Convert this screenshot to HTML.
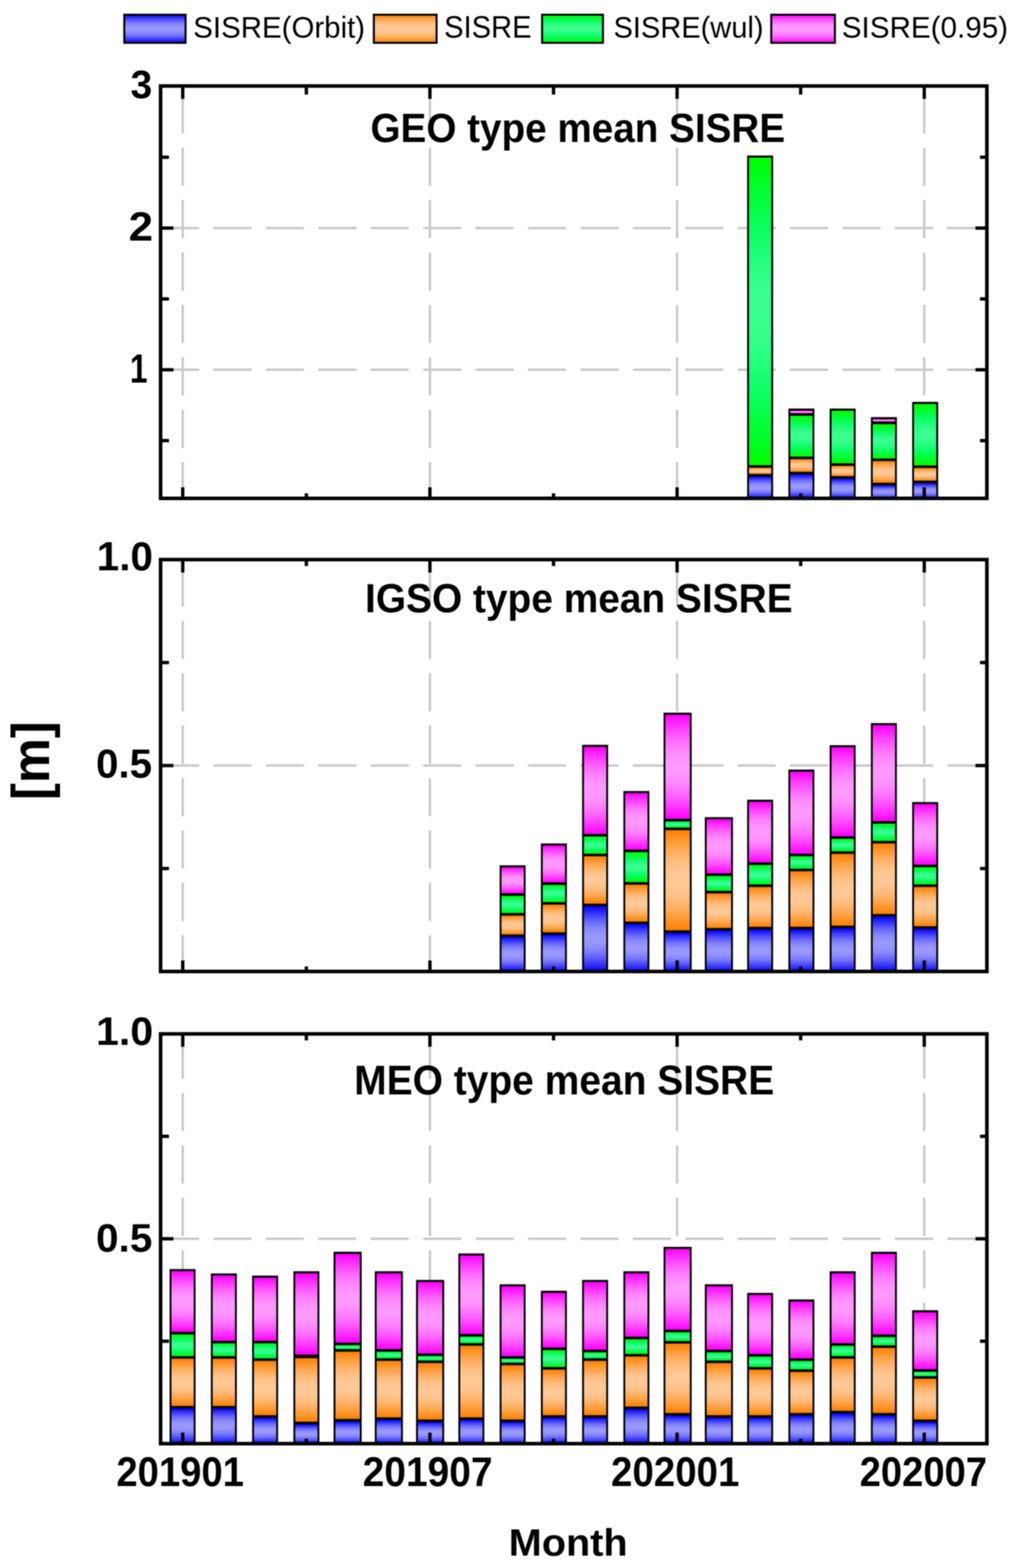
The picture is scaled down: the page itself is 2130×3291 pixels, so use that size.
<!DOCTYPE html><html><head><meta charset="utf-8"><title>SISRE</title><style>html,body{margin:0;padding:0;background:#fff}svg{display:block;filter:blur(0.9px)}text{font-family:"Liberation Sans",Arial,sans-serif}</style></head><body>
<svg width="2130" height="3291" viewBox="0 0 2130 3291">
<defs>
<linearGradient id="b" x1="0" y1="0" x2="0" y2="1"><stop offset="0.0" stop-color="#0000ff"/><stop offset="0.0625" stop-color="#1e1eff"/><stop offset="0.125" stop-color="#3b3bff"/><stop offset="0.1875" stop-color="#5555ff"/><stop offset="0.25" stop-color="#6c6cff"/><stop offset="0.3125" stop-color="#7f7fff"/><stop offset="0.375" stop-color="#8d8dff"/><stop offset="0.4375" stop-color="#9696ff"/><stop offset="0.5" stop-color="#9999ff"/><stop offset="0.5625" stop-color="#9696ff"/><stop offset="0.625" stop-color="#8d8dff"/><stop offset="0.6875" stop-color="#7f7fff"/><stop offset="0.75" stop-color="#6c6cff"/><stop offset="0.8125" stop-color="#5555ff"/><stop offset="0.875" stop-color="#3b3bff"/><stop offset="0.9375" stop-color="#1e1eff"/><stop offset="1.0" stop-color="#0000ff"/></linearGradient>
<linearGradient id="o" x1="0" y1="0" x2="0" y2="1"><stop offset="0.0" stop-color="#ff8000"/><stop offset="0.0625" stop-color="#ff8e1d"/><stop offset="0.125" stop-color="#ff9c39"/><stop offset="0.1875" stop-color="#ffa853"/><stop offset="0.25" stop-color="#ffb36a"/><stop offset="0.3125" stop-color="#ffbc7d"/><stop offset="0.375" stop-color="#ffc38b"/><stop offset="0.4375" stop-color="#ffc793"/><stop offset="0.5" stop-color="#ffc896"/><stop offset="0.5625" stop-color="#ffc793"/><stop offset="0.625" stop-color="#ffc38b"/><stop offset="0.6875" stop-color="#ffbc7d"/><stop offset="0.75" stop-color="#ffb36a"/><stop offset="0.8125" stop-color="#ffa853"/><stop offset="0.875" stop-color="#ff9c39"/><stop offset="0.9375" stop-color="#ff8e1d"/><stop offset="1.0" stop-color="#ff8000"/></linearGradient>
<linearGradient id="g" x1="0" y1="0" x2="0" y2="1"><stop offset="0.0" stop-color="#00ff00"/><stop offset="0.0625" stop-color="#00ff1c"/><stop offset="0.125" stop-color="#01ff37"/><stop offset="0.1875" stop-color="#06ff50"/><stop offset="0.25" stop-color="#0fff66"/><stop offset="0.3125" stop-color="#1dff78"/><stop offset="0.375" stop-color="#2cff85"/><stop offset="0.4375" stop-color="#38ff8d"/><stop offset="0.5" stop-color="#3cff90"/><stop offset="0.5625" stop-color="#38ff8d"/><stop offset="0.625" stop-color="#2cff85"/><stop offset="0.6875" stop-color="#1dff78"/><stop offset="0.75" stop-color="#0fff66"/><stop offset="0.8125" stop-color="#06ff50"/><stop offset="0.875" stop-color="#01ff37"/><stop offset="0.9375" stop-color="#00ff1c"/><stop offset="1.0" stop-color="#00ff00"/></linearGradient>
<linearGradient id="p" x1="0" y1="0" x2="0" y2="1"><stop offset="0.0" stop-color="#ff00ff"/><stop offset="0.0625" stop-color="#ff1eff"/><stop offset="0.125" stop-color="#ff3bff"/><stop offset="0.1875" stop-color="#ff55ff"/><stop offset="0.25" stop-color="#ff6cff"/><stop offset="0.3125" stop-color="#ff7fff"/><stop offset="0.375" stop-color="#ff8dff"/><stop offset="0.4375" stop-color="#ff96ff"/><stop offset="0.5" stop-color="#ff99ff"/><stop offset="0.5625" stop-color="#ff96ff"/><stop offset="0.625" stop-color="#ff8dff"/><stop offset="0.6875" stop-color="#ff7fff"/><stop offset="0.75" stop-color="#ff6cff"/><stop offset="0.8125" stop-color="#ff55ff"/><stop offset="0.875" stop-color="#ff3bff"/><stop offset="0.9375" stop-color="#ff1eff"/><stop offset="1.0" stop-color="#ff00ff"/></linearGradient>
</defs>
<rect width="2130" height="3291" fill="#fff"/>
<rect x="260.8" y="30.9" width="128.6" height="59" fill="url(#b)" stroke="#000" stroke-width="4.2"/>
<rect x="784.5" y="30.9" width="131.7" height="59" fill="url(#o)" stroke="#000" stroke-width="4.2"/>
<rect x="1137.6" y="30.9" width="127.7" height="59" fill="url(#g)" stroke="#000" stroke-width="4.2"/>
<rect x="1618.5" y="30.9" width="133.6" height="59" fill="url(#p)" stroke="#000" stroke-width="4.2"/>
<line x1="383.5" y1="1050" x2="383.5" y2="180.5" stroke="#c8c8c8" stroke-width="5" stroke-dasharray="80 30"/>
<line x1="902.2" y1="1050" x2="902.2" y2="180.5" stroke="#c8c8c8" stroke-width="5" stroke-dasharray="80 30"/>
<line x1="1420.9" y1="1050" x2="1420.9" y2="180.5" stroke="#c8c8c8" stroke-width="5" stroke-dasharray="80 30"/>
<line x1="1939.6" y1="1050" x2="1939.6" y2="180.5" stroke="#c8c8c8" stroke-width="5" stroke-dasharray="80 30"/>
<line x1="338" y1="478.7" x2="2071" y2="478.7" stroke="#c8c8c8" stroke-width="5" stroke-dasharray="80 30"/>
<line x1="338" y1="776.1" x2="2071" y2="776.1" stroke="#c8c8c8" stroke-width="5" stroke-dasharray="80 30"/>
<rect x="1567.9" y="326.4" width="54.5" height="719.6" fill="#000"/><rect x="1571.8" y="330.9" width="46.7" height="645.4" fill="url(#g)"/><rect x="1571.8" y="981.7" width="46.7" height="13.1" fill="url(#o)"/><rect x="1571.8" y="1000.2" width="46.7" height="45.8" fill="url(#b)"/>
<rect x="1654.5" y="857.5" width="54.5" height="188.5" fill="#000"/><rect x="1658.4" y="862" width="46.7" height="5.3" fill="url(#p)"/><rect x="1658.4" y="872.7" width="46.7" height="85.6" fill="url(#g)"/><rect x="1658.4" y="963.7" width="46.7" height="26.6" fill="url(#o)"/><rect x="1658.4" y="995.7" width="46.7" height="50.3" fill="url(#b)"/>
<rect x="1741.1" y="857.5" width="54.5" height="188.5" fill="#000"/><rect x="1745" y="862" width="46.7" height="110.3" fill="url(#g)"/><rect x="1745" y="977.7" width="46.7" height="21.6" fill="url(#o)"/><rect x="1745" y="1004.7" width="46.7" height="41.3" fill="url(#b)"/>
<rect x="1827.6" y="875.5" width="54.5" height="170.5" fill="#000"/><rect x="1831.5" y="880" width="46.7" height="4.9" fill="url(#p)"/><rect x="1831.5" y="890.3" width="46.7" height="72" fill="url(#g)"/><rect x="1831.5" y="967.7" width="46.7" height="45.6" fill="url(#o)"/><rect x="1831.5" y="1018.7" width="46.7" height="27.3" fill="url(#b)"/>
<rect x="1914.2" y="843.5" width="54.5" height="202.5" fill="#000"/><rect x="1918.1" y="848" width="46.7" height="128.8" fill="url(#g)"/><rect x="1918.1" y="982.2" width="46.7" height="26.6" fill="url(#o)"/><rect x="1918.1" y="1014.2" width="46.7" height="31.8" fill="url(#b)"/>
<line x1="383.5" y1="180.5" x2="383.5" y2="207.5" stroke="#000" stroke-width="7"/>
<line x1="383.5" y1="1046" x2="383.5" y2="1022.8" stroke="#000" stroke-width="7"/>
<line x1="642.9" y1="180.5" x2="642.9" y2="198.5" stroke="#000" stroke-width="7"/>
<line x1="642.9" y1="1046" x2="642.9" y2="1035.5" stroke="#000" stroke-width="7"/>
<line x1="902.2" y1="180.5" x2="902.2" y2="207.5" stroke="#000" stroke-width="7"/>
<line x1="902.2" y1="1046" x2="902.2" y2="1022.8" stroke="#000" stroke-width="7"/>
<line x1="1161.6" y1="180.5" x2="1161.6" y2="198.5" stroke="#000" stroke-width="7"/>
<line x1="1161.6" y1="1046" x2="1161.6" y2="1035.5" stroke="#000" stroke-width="7"/>
<line x1="1420.9" y1="180.5" x2="1420.9" y2="207.5" stroke="#000" stroke-width="7"/>
<line x1="1420.9" y1="1046" x2="1420.9" y2="1022.8" stroke="#000" stroke-width="7"/>
<line x1="1680.2" y1="180.5" x2="1680.2" y2="198.5" stroke="#000" stroke-width="7"/>
<line x1="1680.2" y1="1046" x2="1680.2" y2="1035.5" stroke="#000" stroke-width="7"/>
<line x1="1939.6" y1="180.5" x2="1939.6" y2="207.5" stroke="#000" stroke-width="7"/>
<line x1="1939.6" y1="1046" x2="1939.6" y2="1022.8" stroke="#000" stroke-width="7"/>
<line x1="337" y1="330" x2="354.6" y2="330" stroke="#000" stroke-width="7"/>
<line x1="2071" y1="330" x2="2056.5" y2="330" stroke="#000" stroke-width="7"/>
<line x1="337" y1="478.7" x2="364" y2="478.7" stroke="#000" stroke-width="7"/>
<line x1="2071" y1="478.7" x2="2047" y2="478.7" stroke="#000" stroke-width="7"/>
<line x1="337" y1="627.4" x2="354.6" y2="627.4" stroke="#000" stroke-width="7"/>
<line x1="2071" y1="627.4" x2="2056.5" y2="627.4" stroke="#000" stroke-width="7"/>
<line x1="337" y1="776.1" x2="364" y2="776.1" stroke="#000" stroke-width="7"/>
<line x1="2071" y1="776.1" x2="2047" y2="776.1" stroke="#000" stroke-width="7"/>
<line x1="337" y1="924.8" x2="354.6" y2="924.8" stroke="#000" stroke-width="7"/>
<line x1="2071" y1="924.8" x2="2056.5" y2="924.8" stroke="#000" stroke-width="7"/>
<rect x="337" y="180.5" width="1734" height="865.5" fill="none" stroke="#000" stroke-width="7.5"/>
<line x1="383.5" y1="2043" x2="383.5" y2="1174.5" stroke="#c8c8c8" stroke-width="5" stroke-dasharray="80 30"/>
<line x1="902.2" y1="2043" x2="902.2" y2="1174.5" stroke="#c8c8c8" stroke-width="5" stroke-dasharray="80 30"/>
<line x1="1420.9" y1="2043" x2="1420.9" y2="1174.5" stroke="#c8c8c8" stroke-width="5" stroke-dasharray="80 30"/>
<line x1="1939.6" y1="2043" x2="1939.6" y2="1174.5" stroke="#c8c8c8" stroke-width="5" stroke-dasharray="80 30"/>
<line x1="338" y1="1606.8" x2="2071" y2="1606.8" stroke="#c8c8c8" stroke-width="5" stroke-dasharray="80 30"/>
<rect x="1048.5" y="1816.1" width="54.5" height="222.9" fill="#000"/><rect x="1052.4" y="1820.6" width="46.7" height="54.3" fill="url(#p)"/><rect x="1052.4" y="1880.3" width="46.7" height="36" fill="url(#g)"/><rect x="1052.4" y="1921.7" width="46.7" height="39.6" fill="url(#o)"/><rect x="1052.4" y="1966.7" width="46.7" height="72.3" fill="url(#b)"/>
<rect x="1135.1" y="1770.2" width="54.5" height="268.8" fill="#000"/><rect x="1139" y="1774.7" width="46.7" height="77.2" fill="url(#p)"/><rect x="1139" y="1857.3" width="46.7" height="36" fill="url(#g)"/><rect x="1139" y="1898.7" width="46.7" height="58.1" fill="url(#o)"/><rect x="1139" y="1962.2" width="46.7" height="76.8" fill="url(#b)"/>
<rect x="1221.6" y="1563.3" width="54.5" height="475.7" fill="#000"/><rect x="1225.5" y="1567.8" width="46.7" height="182.5" fill="url(#p)"/><rect x="1225.5" y="1755.7" width="46.7" height="36.1" fill="url(#g)"/><rect x="1225.5" y="1797.2" width="46.7" height="99.5" fill="url(#o)"/><rect x="1225.5" y="1902.1" width="46.7" height="136.9" fill="url(#b)"/>
<rect x="1308.2" y="1660.3" width="54.5" height="378.7" fill="#000"/><rect x="1312.1" y="1664.8" width="46.7" height="118.4" fill="url(#p)"/><rect x="1312.1" y="1788.6" width="46.7" height="62.8" fill="url(#g)"/><rect x="1312.1" y="1856.8" width="46.7" height="77.5" fill="url(#o)"/><rect x="1312.1" y="1939.7" width="46.7" height="99.3" fill="url(#b)"/>
<rect x="1392.5" y="1495.8" width="59" height="543.2" fill="#000"/><rect x="1396.4" y="1500.3" width="51.2" height="218.3" fill="url(#p)"/><rect x="1396.4" y="1724" width="51.2" height="12.9" fill="url(#g)"/><rect x="1396.4" y="1742.3" width="51.2" height="210.3" fill="url(#o)"/><rect x="1396.4" y="1958" width="51.2" height="81" fill="url(#b)"/>
<rect x="1479.1" y="1715.1" width="59" height="323.9" fill="#000"/><rect x="1483" y="1719.6" width="51.2" height="113.5" fill="url(#p)"/><rect x="1483" y="1838.5" width="51.2" height="31.2" fill="url(#g)"/><rect x="1483" y="1875.1" width="51.2" height="72.6" fill="url(#o)"/><rect x="1483" y="1953.1" width="51.2" height="85.9" fill="url(#b)"/>
<rect x="1567.9" y="1678.5" width="54.5" height="360.5" fill="#000"/><rect x="1571.8" y="1683" width="46.7" height="127" fill="url(#p)"/><rect x="1571.8" y="1815.4" width="46.7" height="40.9" fill="url(#g)"/><rect x="1571.8" y="1861.7" width="46.7" height="83.6" fill="url(#o)"/><rect x="1571.8" y="1950.7" width="46.7" height="88.3" fill="url(#b)"/>
<rect x="1654.5" y="1615.2" width="54.5" height="423.8" fill="#000"/><rect x="1658.4" y="1619.7" width="46.7" height="172" fill="url(#p)"/><rect x="1658.4" y="1797.1" width="46.7" height="26.2" fill="url(#g)"/><rect x="1658.4" y="1828.7" width="46.7" height="116.5" fill="url(#o)"/><rect x="1658.4" y="1950.6" width="46.7" height="88.4" fill="url(#b)"/>
<rect x="1741.1" y="1564" width="54.5" height="475" fill="#000"/><rect x="1745" y="1568.5" width="46.7" height="186.6" fill="url(#p)"/><rect x="1745" y="1760.5" width="46.7" height="26.3" fill="url(#g)"/><rect x="1745" y="1792.2" width="46.7" height="150.6" fill="url(#o)"/><rect x="1745" y="1948.2" width="46.7" height="90.8" fill="url(#b)"/>
<rect x="1827.6" y="1517.7" width="54.5" height="521.3" fill="#000"/><rect x="1831.5" y="1522.2" width="46.7" height="201.2" fill="url(#p)"/><rect x="1831.5" y="1728.8" width="46.7" height="36.1" fill="url(#g)"/><rect x="1831.5" y="1770.3" width="46.7" height="148.1" fill="url(#o)"/><rect x="1831.5" y="1923.8" width="46.7" height="115.2" fill="url(#b)"/>
<rect x="1914.2" y="1683.4" width="54.5" height="355.6" fill="#000"/><rect x="1918.1" y="1687.9" width="46.7" height="126.9" fill="url(#p)"/><rect x="1918.1" y="1820.2" width="46.7" height="36.1" fill="url(#g)"/><rect x="1918.1" y="1861.7" width="46.7" height="82.3" fill="url(#o)"/><rect x="1918.1" y="1949.4" width="46.7" height="89.6" fill="url(#b)"/>
<line x1="383.5" y1="1174.5" x2="383.5" y2="1201.5" stroke="#000" stroke-width="7"/>
<line x1="383.5" y1="2039" x2="383.5" y2="2015.8" stroke="#000" stroke-width="7"/>
<line x1="642.9" y1="1174.5" x2="642.9" y2="1188.1" stroke="#000" stroke-width="7"/>
<line x1="642.9" y1="2039" x2="642.9" y2="2028.5" stroke="#000" stroke-width="7"/>
<line x1="902.2" y1="1174.5" x2="902.2" y2="1201.5" stroke="#000" stroke-width="7"/>
<line x1="902.2" y1="2039" x2="902.2" y2="2015.8" stroke="#000" stroke-width="7"/>
<line x1="1161.6" y1="1174.5" x2="1161.6" y2="1188.1" stroke="#000" stroke-width="7"/>
<line x1="1161.6" y1="2039" x2="1161.6" y2="2028.5" stroke="#000" stroke-width="7"/>
<line x1="1420.9" y1="1174.5" x2="1420.9" y2="1201.5" stroke="#000" stroke-width="7"/>
<line x1="1420.9" y1="2039" x2="1420.9" y2="2015.8" stroke="#000" stroke-width="7"/>
<line x1="1680.2" y1="1174.5" x2="1680.2" y2="1188.1" stroke="#000" stroke-width="7"/>
<line x1="1680.2" y1="2039" x2="1680.2" y2="2028.5" stroke="#000" stroke-width="7"/>
<line x1="1939.6" y1="1174.5" x2="1939.6" y2="1201.5" stroke="#000" stroke-width="7"/>
<line x1="1939.6" y1="2039" x2="1939.6" y2="2015.8" stroke="#000" stroke-width="7"/>
<line x1="337" y1="1390.6" x2="354.6" y2="1390.6" stroke="#000" stroke-width="7"/>
<line x1="2071" y1="1390.6" x2="2056.5" y2="1390.6" stroke="#000" stroke-width="7"/>
<line x1="337" y1="1606.8" x2="364" y2="1606.8" stroke="#000" stroke-width="7"/>
<line x1="2071" y1="1606.8" x2="2047" y2="1606.8" stroke="#000" stroke-width="7"/>
<line x1="337" y1="1822.9" x2="354.6" y2="1822.9" stroke="#000" stroke-width="7"/>
<line x1="2071" y1="1822.9" x2="2056.5" y2="1822.9" stroke="#000" stroke-width="7"/>
<rect x="337" y="1174.5" width="1734" height="864.5" fill="none" stroke="#000" stroke-width="7.5"/>
<line x1="383.5" y1="3034" x2="383.5" y2="2170" stroke="#c8c8c8" stroke-width="5" stroke-dasharray="80 30"/>
<line x1="902.2" y1="3034" x2="902.2" y2="2170" stroke="#c8c8c8" stroke-width="5" stroke-dasharray="80 30"/>
<line x1="1420.9" y1="3034" x2="1420.9" y2="2170" stroke="#c8c8c8" stroke-width="5" stroke-dasharray="80 30"/>
<line x1="1939.6" y1="3034" x2="1939.6" y2="2170" stroke="#c8c8c8" stroke-width="5" stroke-dasharray="80 30"/>
<line x1="338" y1="2600" x2="2071" y2="2600" stroke="#c8c8c8" stroke-width="5" stroke-dasharray="80 30"/>
<rect x="355.9" y="2663.6" width="54.5" height="366.4" fill="#000"/><rect x="359.8" y="2668.1" width="46.7" height="127.2" fill="url(#p)"/><rect x="359.8" y="2800.7" width="46.7" height="45.6" fill="url(#g)"/><rect x="359.8" y="2851.7" width="46.7" height="99.2" fill="url(#o)"/><rect x="359.8" y="2956.3" width="46.7" height="73.7" fill="url(#b)"/>
<rect x="442.5" y="2672.7" width="54.5" height="357.3" fill="#000"/><rect x="446.4" y="2677.2" width="46.7" height="136.9" fill="url(#p)"/><rect x="446.4" y="2819.5" width="46.7" height="26.8" fill="url(#g)"/><rect x="446.4" y="2851.7" width="46.7" height="99.2" fill="url(#o)"/><rect x="446.4" y="2956.3" width="46.7" height="73.7" fill="url(#b)"/>
<rect x="529.1" y="2677.3" width="54.5" height="352.7" fill="#000"/><rect x="533" y="2681.8" width="46.7" height="132.3" fill="url(#p)"/><rect x="533" y="2819.5" width="46.7" height="31.4" fill="url(#g)"/><rect x="533" y="2856.3" width="46.7" height="114" fill="url(#o)"/><rect x="533" y="2975.7" width="46.7" height="54.3" fill="url(#b)"/>
<rect x="615.7" y="2668.2" width="54.5" height="361.8" fill="#000"/><rect x="619.6" y="2672.7" width="46.7" height="170.3" fill="url(#p)"/><rect x="619.6" y="2850.7" width="46.7" height="133.2" fill="url(#o)"/><rect x="619.6" y="2989.3" width="46.7" height="40.7" fill="url(#b)"/>
<rect x="700" y="2627.3" width="59" height="402.7" fill="#000"/><rect x="703.9" y="2631.8" width="51.2" height="186.2" fill="url(#p)"/><rect x="703.9" y="2823.4" width="51.2" height="8.2" fill="url(#g)"/><rect x="703.9" y="2837" width="51.2" height="141.2" fill="url(#o)"/><rect x="703.9" y="2983.6" width="51.2" height="46.4" fill="url(#b)"/>
<rect x="786.5" y="2668.2" width="59" height="361.8" fill="#000"/><rect x="790.4" y="2672.7" width="51.2" height="158.9" fill="url(#p)"/><rect x="790.4" y="2837" width="51.2" height="13.9" fill="url(#g)"/><rect x="790.4" y="2856.3" width="51.2" height="118.5" fill="url(#o)"/><rect x="790.4" y="2980.2" width="51.2" height="49.8" fill="url(#b)"/>
<rect x="873.1" y="2686.4" width="59" height="343.6" fill="#000"/><rect x="877" y="2690.9" width="51.2" height="149.8" fill="url(#p)"/><rect x="877" y="2846.1" width="51.2" height="9.4" fill="url(#g)"/><rect x="877" y="2860.9" width="51.2" height="118.4" fill="url(#o)"/><rect x="877" y="2984.7" width="51.2" height="45.3" fill="url(#b)"/>
<rect x="961.9" y="2630.7" width="54.5" height="399.3" fill="#000"/><rect x="965.8" y="2635.2" width="46.7" height="164.6" fill="url(#p)"/><rect x="965.8" y="2805.2" width="46.7" height="13.9" fill="url(#g)"/><rect x="965.8" y="2824.5" width="46.7" height="150.3" fill="url(#o)"/><rect x="965.8" y="2980.2" width="46.7" height="49.8" fill="url(#b)"/>
<rect x="1048.5" y="2695.5" width="54.5" height="334.5" fill="#000"/><rect x="1052.4" y="2700" width="46.7" height="146.3" fill="url(#p)"/><rect x="1052.4" y="2851.7" width="46.7" height="8.3" fill="url(#g)"/><rect x="1052.4" y="2865.4" width="46.7" height="113.9" fill="url(#o)"/><rect x="1052.4" y="2984.7" width="46.7" height="45.3" fill="url(#b)"/>
<rect x="1135.1" y="2709.1" width="54.5" height="320.9" fill="#000"/><rect x="1139" y="2713.6" width="46.7" height="114.7" fill="url(#p)"/><rect x="1139" y="2833.7" width="46.7" height="35.4" fill="url(#g)"/><rect x="1139" y="2874.5" width="46.7" height="95.8" fill="url(#o)"/><rect x="1139" y="2975.7" width="46.7" height="54.3" fill="url(#b)"/>
<rect x="1221.6" y="2686.4" width="54.5" height="343.6" fill="#000"/><rect x="1225.5" y="2690.9" width="46.7" height="141.9" fill="url(#p)"/><rect x="1225.5" y="2838.2" width="46.7" height="12.7" fill="url(#g)"/><rect x="1225.5" y="2856.3" width="46.7" height="114" fill="url(#o)"/><rect x="1225.5" y="2975.7" width="46.7" height="54.3" fill="url(#b)"/>
<rect x="1308.2" y="2668.2" width="54.5" height="361.8" fill="#000"/><rect x="1312.1" y="2672.7" width="46.7" height="132.8" fill="url(#p)"/><rect x="1312.1" y="2810.9" width="46.7" height="30.9" fill="url(#g)"/><rect x="1312.1" y="2847.2" width="46.7" height="104.9" fill="url(#o)"/><rect x="1312.1" y="2957.5" width="46.7" height="72.5" fill="url(#b)"/>
<rect x="1392.5" y="2617" width="59" height="413" fill="#000"/><rect x="1396.4" y="2621.5" width="51.2" height="169.2" fill="url(#p)"/><rect x="1396.4" y="2796.1" width="51.2" height="18.5" fill="url(#g)"/><rect x="1396.4" y="2820" width="51.2" height="145.7" fill="url(#o)"/><rect x="1396.4" y="2971.1" width="51.2" height="58.9" fill="url(#b)"/>
<rect x="1479.1" y="2695.5" width="59" height="334.5" fill="#000"/><rect x="1483" y="2700" width="51.2" height="132.8" fill="url(#p)"/><rect x="1483" y="2838.2" width="51.2" height="17.3" fill="url(#g)"/><rect x="1483" y="2860.9" width="51.2" height="109.4" fill="url(#o)"/><rect x="1483" y="2975.7" width="51.2" height="54.3" fill="url(#b)"/>
<rect x="1567.9" y="2713.6" width="54.5" height="316.4" fill="#000"/><rect x="1571.8" y="2718.1" width="46.7" height="123.7" fill="url(#p)"/><rect x="1571.8" y="2847.2" width="46.7" height="21.9" fill="url(#g)"/><rect x="1571.8" y="2874.5" width="46.7" height="95.8" fill="url(#o)"/><rect x="1571.8" y="2975.7" width="46.7" height="54.3" fill="url(#b)"/>
<rect x="1654.5" y="2727.3" width="54.5" height="302.7" fill="#000"/><rect x="1658.4" y="2731.8" width="46.7" height="119.1" fill="url(#p)"/><rect x="1658.4" y="2856.3" width="46.7" height="17.8" fill="url(#g)"/><rect x="1658.4" y="2879.5" width="46.7" height="86.2" fill="url(#o)"/><rect x="1658.4" y="2971.1" width="46.7" height="58.9" fill="url(#b)"/>
<rect x="1741.1" y="2668.2" width="54.5" height="361.8" fill="#000"/><rect x="1745" y="2672.7" width="46.7" height="146.4" fill="url(#p)"/><rect x="1745" y="2824.5" width="46.7" height="21.8" fill="url(#g)"/><rect x="1745" y="2851.7" width="46.7" height="109.5" fill="url(#o)"/><rect x="1745" y="2966.6" width="46.7" height="63.4" fill="url(#b)"/>
<rect x="1827.6" y="2627.3" width="54.5" height="402.7" fill="#000"/><rect x="1831.5" y="2631.8" width="46.7" height="169.1" fill="url(#p)"/><rect x="1831.5" y="2806.3" width="46.7" height="17.4" fill="url(#g)"/><rect x="1831.5" y="2829.1" width="46.7" height="136.6" fill="url(#o)"/><rect x="1831.5" y="2971.1" width="46.7" height="58.9" fill="url(#b)"/>
<rect x="1914.2" y="2750" width="54.5" height="280" fill="#000"/><rect x="1918.1" y="2754.5" width="46.7" height="119.2" fill="url(#p)"/><rect x="1918.1" y="2879.1" width="46.7" height="9.3" fill="url(#g)"/><rect x="1918.1" y="2893.8" width="46.7" height="85.5" fill="url(#o)"/><rect x="1918.1" y="2984.7" width="46.7" height="45.3" fill="url(#b)"/>
<line x1="383.5" y1="2170" x2="383.5" y2="2197" stroke="#000" stroke-width="7"/>
<line x1="383.5" y1="3030" x2="383.5" y2="3006.8" stroke="#000" stroke-width="7"/>
<line x1="642.9" y1="2170" x2="642.9" y2="2183.6" stroke="#000" stroke-width="7"/>
<line x1="642.9" y1="3030" x2="642.9" y2="3019.5" stroke="#000" stroke-width="7"/>
<line x1="902.2" y1="2170" x2="902.2" y2="2197" stroke="#000" stroke-width="7"/>
<line x1="902.2" y1="3030" x2="902.2" y2="3006.8" stroke="#000" stroke-width="7"/>
<line x1="1161.6" y1="2170" x2="1161.6" y2="2183.6" stroke="#000" stroke-width="7"/>
<line x1="1161.6" y1="3030" x2="1161.6" y2="3019.5" stroke="#000" stroke-width="7"/>
<line x1="1420.9" y1="2170" x2="1420.9" y2="2197" stroke="#000" stroke-width="7"/>
<line x1="1420.9" y1="3030" x2="1420.9" y2="3006.8" stroke="#000" stroke-width="7"/>
<line x1="1680.2" y1="2170" x2="1680.2" y2="2183.6" stroke="#000" stroke-width="7"/>
<line x1="1680.2" y1="3030" x2="1680.2" y2="3019.5" stroke="#000" stroke-width="7"/>
<line x1="1939.6" y1="2170" x2="1939.6" y2="2197" stroke="#000" stroke-width="7"/>
<line x1="1939.6" y1="3030" x2="1939.6" y2="3006.8" stroke="#000" stroke-width="7"/>
<line x1="337" y1="2385" x2="354.6" y2="2385" stroke="#000" stroke-width="7"/>
<line x1="2071" y1="2385" x2="2056.5" y2="2385" stroke="#000" stroke-width="7"/>
<line x1="337" y1="2600" x2="364" y2="2600" stroke="#000" stroke-width="7"/>
<line x1="2071" y1="2600" x2="2047" y2="2600" stroke="#000" stroke-width="7"/>
<line x1="337" y1="2815" x2="354.6" y2="2815" stroke="#000" stroke-width="7"/>
<line x1="2071" y1="2815" x2="2056.5" y2="2815" stroke="#000" stroke-width="7"/>
<rect x="337" y="2170" width="1734" height="860" fill="none" stroke="#000" stroke-width="7.5"/>
<text x="405.6" y="78.5" font-size="62.4" textLength="360.6" lengthAdjust="spacingAndGlyphs">SISRE(Orbit)</text>
<text x="932" y="78.5" font-size="64" textLength="183.5" lengthAdjust="spacingAndGlyphs">SISRE</text>
<text x="1287.4" y="78.5" font-size="62.4" textLength="315" lengthAdjust="spacingAndGlyphs">SISRE(wul)</text>
<text x="1766.4" y="78.5" font-size="62.4" textLength="349.1" lengthAdjust="spacingAndGlyphs">SISRE(0.95)</text>
<text x="777.5" y="298" font-size="86" font-weight="bold" textLength="870" lengthAdjust="spacingAndGlyphs">GEO type mean SISRE</text>
<text x="766" y="1285" font-size="86" font-weight="bold" textLength="897.3" lengthAdjust="spacingAndGlyphs">IGSO type mean SISRE</text>
<text x="743.3" y="2296.5" font-size="86.9" font-weight="bold" textLength="881.4" lengthAdjust="spacingAndGlyphs">MEO type mean SISRE</text>
<text x="274" y="206" font-size="83.4" font-weight="bold" textLength="45.5" lengthAdjust="spacingAndGlyphs">3</text>
<text x="270" y="505.3" font-size="85.5" font-weight="bold" textLength="51.2" lengthAdjust="spacingAndGlyphs">2</text>
<text x="272.5" y="802.6" font-size="85" font-weight="bold" textLength="37" lengthAdjust="spacingAndGlyphs">1</text>
<text x="203" y="1197" font-size="84.7" font-weight="bold" textLength="118" lengthAdjust="spacingAndGlyphs">1.0</text>
<text x="201.5" y="1632" font-size="84.7" font-weight="bold" textLength="117.7" lengthAdjust="spacingAndGlyphs">0.5</text>
<text x="201.5" y="2192.5" font-size="84.2" font-weight="bold" textLength="120" lengthAdjust="spacingAndGlyphs">1.0</text>
<text x="201.5" y="2627" font-size="82.7" font-weight="bold" textLength="118.2" lengthAdjust="spacingAndGlyphs">0.5</text>
<text x="244.2" y="3118.5" font-size="86.8" font-weight="bold" textLength="267.8" lengthAdjust="spacingAndGlyphs">201901</text>
<text x="761" y="3118.5" font-size="86.8" font-weight="bold" textLength="272.7" lengthAdjust="spacingAndGlyphs">201907</text>
<text x="1282.3" y="3118.5" font-size="86.8" font-weight="bold" textLength="269.2" lengthAdjust="spacingAndGlyphs">202001</text>
<text x="1804" y="3118.5" font-size="86.8" font-weight="bold" textLength="267.3" lengthAdjust="spacingAndGlyphs">202007</text>
<text x="1067.6" y="3264.5" font-size="79.6" font-weight="bold" textLength="249.6" lengthAdjust="spacingAndGlyphs">Month</text>
<text x="102.8" y="1679.2" font-size="110.8" font-weight="bold" textLength="165.5" lengthAdjust="spacingAndGlyphs" transform="rotate(-90 102.8 1679.2)">[m]</text>
</svg></body></html>
